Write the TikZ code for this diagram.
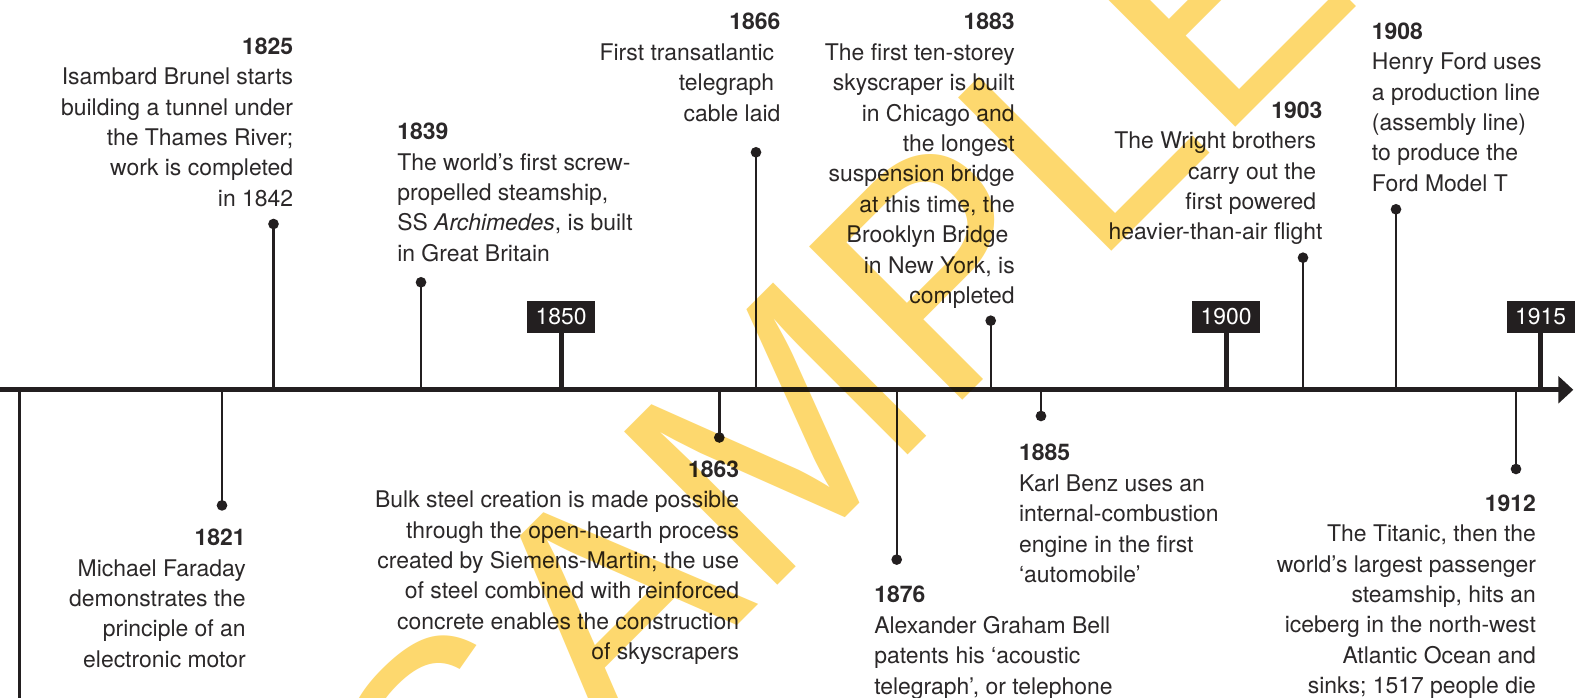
\documentclass[tikz,border=0pt]{standalone}
\usepackage{fontspec}
\setmainfont{TeX Gyre Heros}
\newfontfamily\wmfont{Liberation Sans}
\usetikzlibrary{arrows.meta}
\definecolor{ink}{HTML}{231F20}
\definecolor{bodyc}{HTML}{2B2829}
\definecolor{wm}{RGB}{253,216,110}
\newcommand{\evtfont}{\fontsize{17.2pt}{22.8pt}\selectfont}
\newcommand{\tsp}{\kern4.8pt}
\newcommand{\evR}[1]{\parbox[t]{300pt}{\evtfont\raggedleft #1}}
\newcommand{\evL}[1]{\parbox[t]{300pt}{\evtfont\raggedright #1}}
\tikzset{
  stemline/.style={draw=ink, line width=1.8pt},
  yearstem/.style={draw=ink, line width=3.75pt},
  axisline/.style={draw=ink, line width=3.75pt},
  dotmark/.style={circle, fill=ink, inner sep=0pt, minimum size=8pt},
  yearbox/.style={fill=ink, text=white, inner sep=0pt, minimum width=51pt,
    minimum height=23.8pt, font=\fontsize{17.2pt}{20pt}\selectfont},
  evtR/.style={inner sep=0pt, anchor=base east, text=bodyc},
  evtL/.style={inner sep=0pt, anchor=base west, text=bodyc},
}
\begin{document}
\begin{tikzpicture}[x=0.75pt,y=-0.75pt]
\useasboundingbox (0,0) rectangle (1575,698);
\fill[white] (0,0) rectangle (1575,698);

% axis
\coordinate (axL) at (0,389.8);
\coordinate (axR) at (1573.3,389.8);
\draw[axisline,-{Triangle[length=11.25pt,width=20pt]}] (axL) -- (axR);

% left stem to bottom edge
\coordinate (a1800) at (19.3,389.8);
\coordinate (b1800) at (19.3,700);
\draw[stemline] (a1800) -- (b1800);

% year markers
\node[yearbox] (y1850) at (561,316.9) {1850};
\node[yearbox] (y1900) at (1226,316.9) {1900};
\node[yearbox] (y1915) at (1540.5,316.9) {1915};
\coordinate (ay1850) at (561,389.8);
\coordinate (ay1900) at (1226,389.8);
\coordinate (ay1915) at (1540.5,389.8);
\draw[yearstem] (y1850.south) -- (ay1850);
\draw[yearstem] (y1900.south) -- (ay1900);
\draw[yearstem] (y1915.south) -- (ay1915);

% event dots and stems
\foreach \nm/\x/\y in {1825/273.5/224, 1839/421/282.3, 1866/756/152.3,
  1883/990.7/320.7, 1903/1303/257.7, 1908/1396/209.3, 1821/222/505.4,
  1863/719.3/437.5, 1876/896.7/559.6, 1885/1041/416, 1912/1516/469}{
  \node[dotmark] (d\nm) at (\x,\y) {};
  \coordinate (a\nm) at (\x,389.8);
  \draw[stemline] (d\nm.center) -- (a\nm);
}

% texts above
\node[evtR] (t1825) at (293.4,54.3) {\evR{\textbf{1825}\\Isambard Brunel starts\\building a tunnel under\\the Thames River;\\work is completed\\in 1842}};
\node[evtL] (t1839) at (397,139.7) {\evL{\textbf{1839}\\The world’s first screw-\\propelled steamship,\\SS \textit{Archimedes}, is built\\in Great Britain}};
\node[evtR] (t1866) at (780.7,30) {\evR{\textbf{1866}\\First transatlantic\tsp\\telegraph\tsp\\cable laid}};
\node[evtR] (t1883) at (1015,30) {\evR{\textbf{1883}\\The first ten-storey\\skyscraper is built\\in Chicago and\\the longest\\suspension bridge\\at this time, the\\Brooklyn Bridge\tsp\\in New York, is\\completed}};
\node[evtR] (t1903) at (1322.7,118.3) {\evR{\textbf{1903}\\The Wright brothers\tsp\\carry out the\tsp\\first powered\tsp\\heavier-than-air flight}};
\node[evtL] (t1908) at (1371.7,39.3) {\evL{\textbf{1908}\\Henry Ford uses\\a production line\\(assembly line)\\to produce the\\Ford Model T}};

% texts below
\node[evtR] (t1821) at (246,545.8) {\evR{\textbf{1821}\\Michael Faraday\\demonstrates the\\principle of an\\electronic motor}};
\node[evtR] (t1863) at (739.3,477.3) {\evR{\textbf{1863}\\Bulk steel creation is made possible\\through the open-hearth process\\created by Siemens-Martin; the use\\of steel combined with reinforced\\concrete enables the construction\\of skyscrapers}};
\node[evtL] (t1876) at (874,602.8) {\evL{\textbf{1876}\\Alexander Graham Bell\\patents his ‘acoustic\\telegraph’, or telephone}};
\node[evtL] (t1885) at (1018.8,461) {\evL{\textbf{1885}\\Karl Benz uses an\\internal-combustion\\engine in the first\\‘automobile’}};
\node[evtR] (t1912) at (1536.2,511.4) {\evR{\textbf{1912}\\The Titanic, then the\\world’s largest passenger\\steamship, hits an\\iceberg in the north-west\\Atlantic Ocean and\\sinks; 1517 people die}};

% watermark
\begin{scope}[blend mode=multiply]
\clip (0,0) rectangle (1575,698);
\node[inner sep=0pt, anchor=base west, rotate=45, text=wm,
  font=\wmfont\fontsize{236.25pt}{240pt}\selectfont] (wmark) at (462,901) {SAMPLE};
\end{scope}
\end{tikzpicture}
\end{document}
